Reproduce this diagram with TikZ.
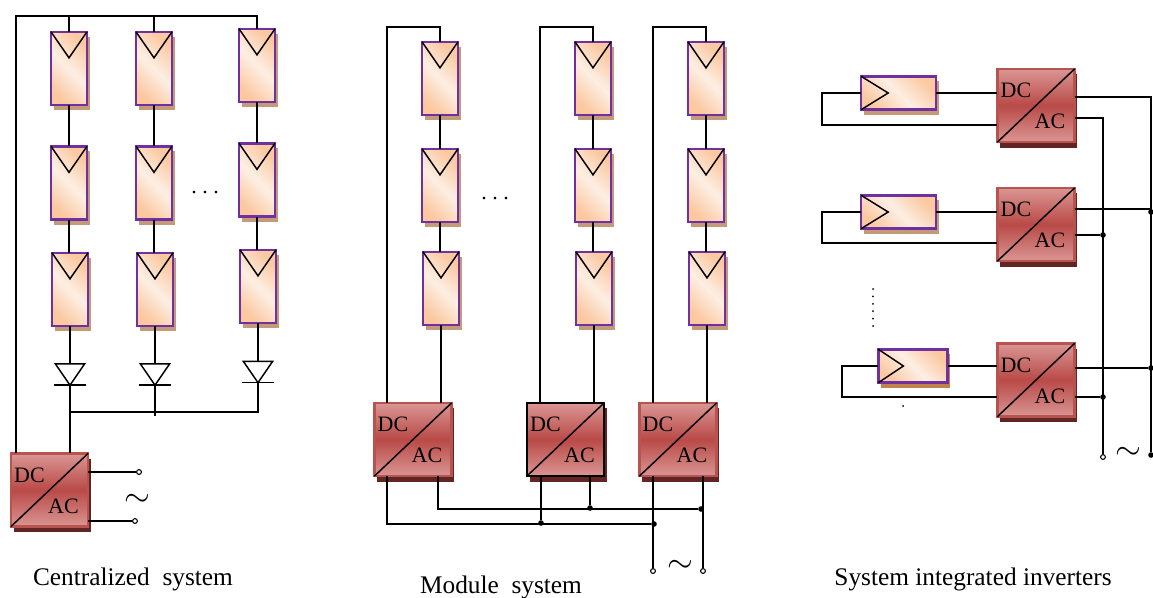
\documentclass[tikz,border=0pt]{standalone}
\usepackage{fontspec}
\setmainfont{Liberation Serif}
\usetikzlibrary{shadows}

\definecolor{pvedge}{HTML}{7030A0}
\definecolor{pvend}{HTML}{FBC8A0}
\definecolor{pvmid}{HTML}{FDEFE4}
\definecolor{pvshadow}{HTML}{C49A78}
\definecolor{invedge}{HTML}{B85450}
\definecolor{invend}{HTML}{DA9694}
\definecolor{invmid}{HTML}{B94A47}
\definecolor{invshadow}{HTML}{632523}

\tikzset{
    pvbase/.style={rectangle, draw=pvedge, line width=1.8pt, outer sep=0pt, inner sep=0pt,
        top color=pvend, bottom color=pvend, middle color=pvmid, shading angle=-45,
        drop shadow={fill=pvshadow, opacity=1, shadow xshift=2pt, shadow yshift=-3.8pt}},
    pvtall/.style={pvbase, minimum width=27pt, minimum height=55pt},
    pvwide/.style={pvbase, minimum width=56pt, minimum height=25pt},
    inverter/.style={rectangle, draw=invedge, line width=1.8pt, outer sep=0pt, inner sep=0pt,
        minimum width=58pt, minimum height=55pt,
        top color=invend, bottom color=invend, middle color=invmid,
        drop shadow={fill=invshadow, opacity=1, shadow xshift=2pt, shadow yshift=-4pt}},
    diode/.style={rectangle, outer sep=0pt, inner sep=0pt, minimum width=22pt, minimum height=16pt},
    terminal/.style={circle, draw, fill=white, line width=.8pt, inner sep=0pt, minimum size=3.6pt},
    joint/.style={circle, fill=black, inner sep=0pt, minimum size=4.2pt},
    speck/.style={circle, fill=black, inner sep=0pt, minimum size=1.5pt},
    wire/.style={line width=1.1pt},
    label/.style={font=\fontsize{16.5}{18}\selectfont, inner sep=0pt},
    caption/.style={font=\fontsize{19}{21}\selectfont, inner sep=0pt},
    tilde/.style={font=\fontsize{24}{24}\selectfont, inner sep=0pt},
}

\begin{document}
\begin{tikzpicture}[x=.75pt, y=-.75pt]
    \useasboundingbox (0,0) rectangle (1153,597);

    % pv strings
    \foreach \n/\x/\y in {a1/69/68.5, a2/69/183, a3/70/289.5,
                          b1/154/68.5, b2/154/183, b3/155/289.5,
                          c1/257/65.5, c2/257/180, c3/258/286.5,
                          d1/440/78.5, d2/440/185.5, d3/441/288.5,
                          e1/593/78.5, e2/593/185.5, e3/594/288.5,
                          f1/706/78.5, f2/706/185.5, f3/707/288.5} {
        \node[pvtall] (\n) at (\x,\y) {};
        \draw[wire] (\n.north west) -- ([shift={(0,26)}]\n.north) -- (\n.north east);
    }
    \foreach \n/\x/\y in {g1/898.5/93, g2/898.5/212} {
        \node[pvwide] (\n) at (\x,\y) {};
        \draw[wire] (\n.north west) -- ([shift={(27,0)}]\n.west) -- (\n.south west);
    }
    \node[pvwide, minimum width=52pt, drop shadow={fill=pvshadow!70!orange!90!black, opacity=1, shadow xshift=2pt, shadow yshift=-3.8pt}] (g3) at (913,366) {};
    \draw[wire] (g3.north west) -- ([shift={(25,0)}]g3.west) -- (g3.south west);

    % inverters
    \foreach \n/\x/\y in {ia/49.5/490, id/413/439.5, if/678/439.5,
                          ig1/1036/105.5, ig2/1036/224.5, ig3/1036/380} {
        \node[inverter] (\n) at (\x,\y) {};
        \draw[wire] (\n.south west) -- (\n.north east);
        \node[label] (\n dc) at ([shift={(-20,-15)}]\n.center) {DC};
        \node[label] (\n ac) at ([shift={(14,16)}]\n.center) {AC};
    }
    \node[inverter, draw=black] (ie) at (565.5,439.5) {};
    \draw[wire] (ie.south west) -- (ie.north east);
    \node[label] (ie dc) at ([shift={(-20,-15)}]ie.center) {DC};
    \node[label] (ie ac) at ([shift={(14,16)}]ie.center) {AC};

    % diodes
    \foreach \n/\x/\y in {da/70/374.5, db/155/374.5, dc/258/372} {
        \node[diode] (\n) at (\x,\y) {};
        \draw[wire] (\n.north west) -- (\n.north east) -- (\n.south) -- cycle;
        \draw[wire] ([shift={(-16,0)}]\n.south) -- ([shift={(16,0)}]\n.south);
    }

    % centralized system
    \coordinate (toprail) at (16,16);
    \coordinate (busrow) at (0,412);
    \draw[wire] (toprail |- ia.north) -- (toprail) -| (c1.north);
    \draw[wire] (a1.north |- toprail) -- (a1.north);
    \draw[wire] (b1.north |- toprail) -- (b1.north);
    \foreach \s in {a,b,c} {
        \draw[wire] (\s1.south) -- (\s1.south |- \s2.north);
        \draw[wire] (\s2.south) -- (\s2.south |- \s3.north);
    }
    \draw[wire] (a3.south) -- (da.north);
    \draw[wire] (b3.south) -- (db.north);
    \draw[wire] (c3.south) -- (dc.north);
    \draw[wire] (da.south) -- (da.south |- ia.north);
    \draw[wire] (db.south) -- ++(0,31);
    \draw[wire] (dc.south) -- (dc.south |- busrow) -- (da.south |- busrow);
    \node[terminal] (ta1) at (139,472) {};
    \node[terminal] (ta2) at (135,521) {};
    \draw[wire] (ia.east |- ta1) -- (ta1);
    \draw[wire] (ia.east |- ta2) -- (ta2);
    \node[tilde] (sima) at (137,500) {$\sim$};
    \node[caption] (capa) at (133,579) {Centralized\enspace system};

    % module system
    \coordinate (railm) at (0,27);
    \foreach \s/\i/\r in {d/id/387, e/ie/540, f/if/653} {
        \draw[wire] (\r,0 |- \i.north) -- (\r,0 |- railm) -| (\s1.north);
        \draw[wire] (\s1.south) -- (\s1.south |- \s2.north);
        \draw[wire] (\s2.south) -- (\s2.south |- \s3.north);
        \draw[wire] (\s3.south) -- (\s3.south |- \i.north);
    }
    \node[terminal] (tf1) at (653,571) {};
    \node[terminal] (tf2) at (703,571) {};
    \node[joint] (j1) at (590,508) {};
    \node[joint] (j2) at (701,509) {};
    \node[joint] (j3) at (541,523) {};
    \node[joint] (j4) at (654,524) {};
    \draw[wire] (387,0 |- id.south) |- (j4);
    \draw[wire] (438,0 |- id.south) |- (j2);
    \draw[wire] (j3 |- ie.south) -- (j3);
    \draw[wire] (j1 |- ie.south) -- (j1);
    \draw[wire] (tf1 |- if.south) -- (tf1);
    \draw[wire] (tf2 |- if.south) -- (tf2);
    \node[tilde] (simf) at (680,566) {$\sim$};
    \node[caption] (capm) at (501,587) {Module\enspace system};
    \node[label] (moredots) at (495,199) {.\ .\ .};
    \node[label] (moredotsa) at (205,193) {.\ .\ .};

    % system integrated inverters
    \foreach \n/\i/\l/\v in {g1/ig1/822/125, g2/ig2/822/243, g3/ig3/842/397} {
        \coordinate (\n back) at (\l,\v);
        \draw[wire] (\n.east) -- (\i.west |- \n.east);
        \draw[wire] (\n.west) -- (\n back |- \n.west) -- (\n back) -- (\i.west |- \n back);
    }
    \node[terminal] (tg1) at (1103,457) {};
    \node[joint] (tg2) at (1151,455) {};
    \node[joint] (j5) at (1103,235) {};
    \node[joint] (j6) at (1103,397) {};
    \node[joint] (j7) at (1151,212) {};
    \node[joint] (j8) at (1151,368) {};
    \draw[wire] ([shift={(0,-8.5)}]ig1.east) -| (tg2);
    \draw[wire] ([shift={(0,12.5)}]ig1.east) -| (tg1);
    \draw[wire] ([shift={(0,-15.5)}]ig2.east) -- (j7 |- 0,209);
    \draw[wire] (ig2.east |- j5) -- (j5);
    \draw[wire] (ig3.east |- j8) -- (j8);
    \draw[wire] (ig3.east |- j6) -- (j6);
    \node[tilde] (simg) at (1128,453) {$\sim$};
    \node[caption] (capg) at (973,579) {System integrated inverters};
    \foreach \i/\y in {1/289, 2/296.4, 3/303.8, 4/311.2, 5/318.6, 6/326} {
        \node[speck] (v\i) at (873,\y) {};
    }
    \node[speck] (v7) at (903,406) {};
\end{tikzpicture}
\end{document}
